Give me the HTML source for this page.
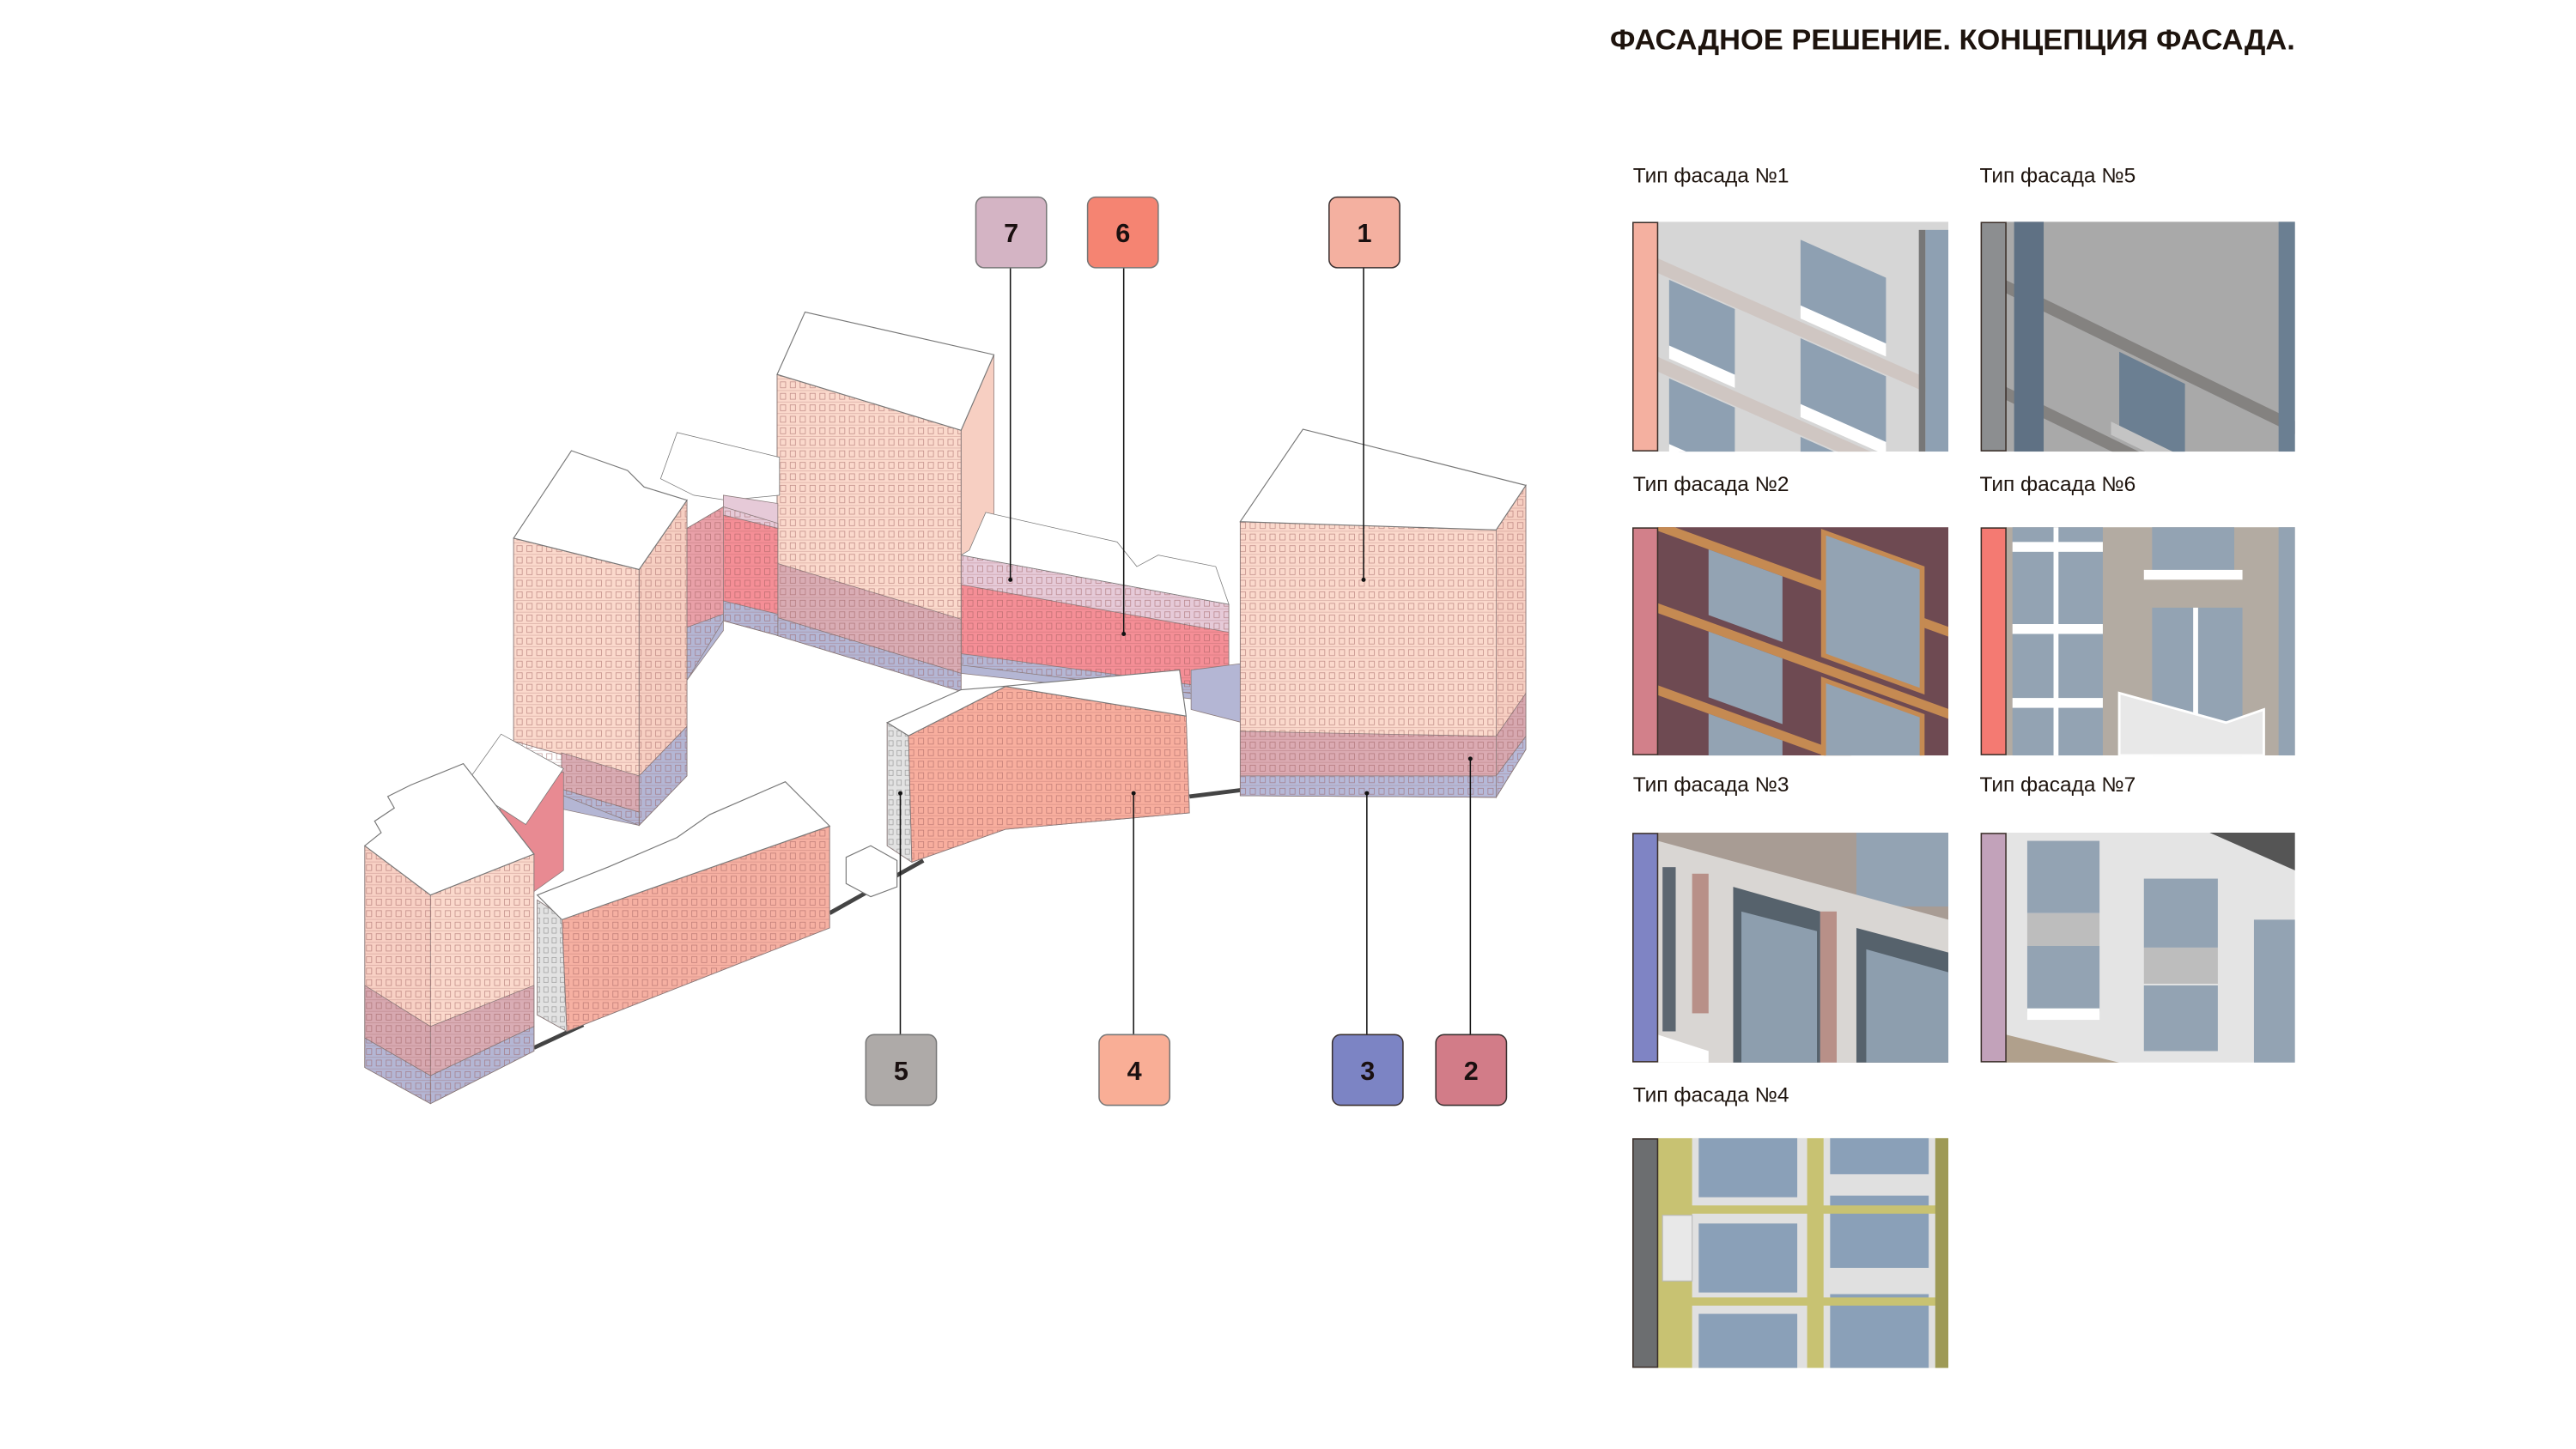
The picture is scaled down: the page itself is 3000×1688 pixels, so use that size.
<!DOCTYPE html>
<html><head><meta charset="utf-8">
<style>html,body{margin:0;padding:0;background:#fff;}svg{display:block}</style>
</head><body>
<svg xmlns="http://www.w3.org/2000/svg" width="3000" height="1688" viewBox="0 0 1568 882.3">
<defs>
<pattern id="win" width="6" height="7" patternUnits="userSpaceOnUse">
<rect x="1" y="1.5" width="3.2" height="3.6" fill="none" stroke="#9a5a5a" stroke-width="0.4" opacity="0.6"/>
<line x1="0" y1="6.8" x2="6" y2="6.8" stroke="#9a5a5a" stroke-width="0.3" opacity="0.45"/>
</pattern>
<pattern id="win2" width="5" height="6" patternUnits="userSpaceOnUse">
<rect x="1" y="1" width="2.6" height="3.2" fill="none" stroke="#666" stroke-width="0.35" opacity="0.6"/>
</pattern>
<clipPath id="c1"><rect x="1009" y="135" width="177" height="140"/></clipPath>
<clipPath id="c5"><rect x="1221" y="135" width="176" height="140"/></clipPath>
<clipPath id="c2"><rect x="1009" y="321" width="177" height="139"/></clipPath>
<clipPath id="c6"><rect x="1221" y="321" width="176" height="139"/></clipPath>
<clipPath id="c3"><rect x="1009" y="507" width="177" height="140"/></clipPath>
<clipPath id="c7"><rect x="1221" y="507" width="176" height="140"/></clipPath>
<clipPath id="c4"><rect x="1009" y="693" width="177" height="140"/></clipPath>
</defs>

<!-- Title -->
<text x="980" y="30" font-family="Liberation Sans, sans-serif" font-weight="bold" font-size="17.5" fill="#1e140e" textLength="417" lengthAdjust="spacingAndGlyphs">ФАСАДНОЕ РЕШЕНИЕ. КОНЦЕПЦИЯ ФАСАДА.</text>

<!-- labels -->
<g font-family="Liberation Sans, sans-serif" font-size="12.5" fill="#1e140e">
<text x="994" y="111" textLength="95" lengthAdjust="spacingAndGlyphs">Тип фасада №1</text>
<text x="1205" y="111" textLength="95" lengthAdjust="spacingAndGlyphs">Тип фасада №5</text>
<text x="994" y="299" textLength="95" lengthAdjust="spacingAndGlyphs">Тип фасада №2</text>
<text x="1205" y="299" textLength="95" lengthAdjust="spacingAndGlyphs">Тип фасада №6</text>
<text x="994" y="482" textLength="95" lengthAdjust="spacingAndGlyphs">Тип фасада №3</text>
<text x="1205" y="482" textLength="95" lengthAdjust="spacingAndGlyphs">Тип фасада №7</text>
<text x="994" y="671" textLength="95" lengthAdjust="spacingAndGlyphs">Тип фасада №4</text>
</g>

<!-- Swatch 1 -->
<g clip-path="url(#c1)">
<rect x="1009" y="135" width="177" height="140" fill="#d6d6d6"/>
<g transform="skewY(24) translate(0,-452)">
<rect x="1009" y="160" width="177" height="9" fill="#cfc6c2"/>
<rect x="1009" y="220" width="177" height="9" fill="#cfc6c2"/>
<rect x="1009" y="280" width="177" height="9" fill="#cfc6c2"/>
<rect x="1009" y="340" width="177" height="9" fill="#cfc6c2"/>
<rect x="1016" y="170" width="40" height="42" fill="#8ea0b2"/>
<rect x="1016" y="230" width="40" height="42" fill="#8ea0b2"/>
<rect x="1016" y="290" width="40" height="42" fill="#8ea0b2"/>
<rect x="1096" y="110" width="52" height="42" fill="#8ea0b2"/>
<rect x="1096" y="170" width="52" height="42" fill="#8ea0b2"/>
<rect x="1096" y="230" width="52" height="42" fill="#8ea0b2"/>
<rect x="1016" y="210" width="40" height="8" fill="#fff"/>
<rect x="1016" y="270" width="40" height="8" fill="#fff"/>
<rect x="1096" y="150" width="52" height="8" fill="#fff"/>
<rect x="1096" y="210" width="52" height="8" fill="#fff"/>
</g>
<rect x="1172" y="140" width="14" height="135" fill="#8ea0b2"/>
<rect x="1168" y="140" width="4" height="135" fill="#777"/>
</g>
<rect x="994" y="135.5" width="15" height="139" fill="#f4b0a0" stroke="#3a2e28" stroke-width="0.8"/>

<!-- Swatch 5 -->
<g clip-path="url(#c5)">
<rect x="1221" y="135" width="176" height="140" fill="#a9a9a9"/>
<g transform="skewY(26) translate(0,-575)">
<rect x="1221" y="150" width="176" height="8" fill="#848280"/>
<rect x="1221" y="215" width="176" height="8" fill="#848280"/>
<rect x="1221" y="280" width="176" height="8" fill="#848280"/>
<rect x="1221" y="345" width="176" height="8" fill="#848280"/>
<rect x="1290" y="160" width="40" height="45" fill="#6b7f92"/>
<rect x="1290" y="225" width="40" height="45" fill="#6b7f92"/>
<rect x="1290" y="290" width="40" height="45" fill="#6b7f92"/>
<rect x="1285" y="205" width="50" height="8" fill="#c4c4c4"/>
<rect x="1285" y="270" width="50" height="8" fill="#c4c4c4"/>
</g>
<rect x="1226" y="135" width="18" height="140" fill="#5f7184"/>
<rect x="1387" y="135" width="10" height="140" fill="#6b7f92"/>
</g>
<rect x="1206" y="135.5" width="15" height="139" fill="#8c8e90" stroke="#3a2e28" stroke-width="0.8"/>

<!-- Swatch 2 -->
<g clip-path="url(#c2)">
<rect x="1009" y="321" width="177" height="139" fill="#6e4a52"/>
<g transform="skewY(20) translate(0,-380)">
<rect x="1009" y="330" width="177" height="6" fill="#c58a52"/>
<rect x="1009" y="380" width="177" height="6" fill="#c58a52"/>
<rect x="1009" y="430" width="177" height="6" fill="#c58a52"/>
<rect x="1009" y="480" width="177" height="6" fill="#c58a52"/>
<rect x="1040" y="336" width="45" height="40" fill="#93a3b3"/>
<rect x="1040" y="386" width="45" height="40" fill="#93a3b3"/>
<rect x="1040" y="436" width="45" height="40" fill="#93a3b3"/>
<rect x="1110" y="300" width="60" height="75" fill="#93a3b3" stroke="#c58a52" stroke-width="3"/>
<rect x="1110" y="390" width="60" height="75" fill="#93a3b3" stroke="#c58a52" stroke-width="3"/>
</g>
</g>
<rect x="994" y="321.5" width="15" height="138" fill="#d2808a" stroke="#3a2e28" stroke-width="0.8"/>

<!-- Swatch 6 -->
<g clip-path="url(#c6)">
<rect x="1221" y="321" width="176" height="139" fill="#b3aba2"/>
<rect x="1225" y="321" width="55" height="139" fill="#93a3b3"/>
<rect x="1225" y="330" width="55" height="6" fill="#fff"/>
<rect x="1225" y="380" width="55" height="6" fill="#fff"/>
<rect x="1225" y="425" width="55" height="6" fill="#fff"/>
<rect x="1250" y="321" width="3" height="139" fill="#fff"/>
<rect x="1310" y="321" width="50" height="28" fill="#93a3b3"/>
<rect x="1305" y="347" width="60" height="6" fill="#fff"/>
<rect x="1310" y="370" width="55" height="90" fill="#93a3b3"/>
<rect x="1335" y="370" width="3" height="90" fill="#fff"/>
<polygon points="1290,422 1355,440 1378,432 1378,460 1290,460" fill="#e8e8e8" stroke="#fff" stroke-width="1.5"/>
<rect x="1387" y="321" width="10" height="139" fill="#93a3b3"/>
</g>
<rect x="1206" y="321.5" width="15" height="138" fill="#f47a72" stroke="#3a2e28" stroke-width="0.8"/>

<!-- Swatch 3 -->
<g clip-path="url(#c3)">
<rect x="1009" y="507" width="177" height="140" fill="#a89c94"/>
<rect x="1130" y="507" width="56" height="45" fill="#93a3b3"/>
<polygon points="1009,512 1186,560 1186,647 1009,647" fill="#d9d6d3"/>
<rect x="1012" y="528" width="8" height="100" fill="#5c6670"/>
<rect x="1030" y="532" width="10" height="85" fill="#b89088"/>
<polygon points="1055,540 1108,555 1108,647 1055,647" fill="#56626c"/>
<polygon points="1060,555 1106,567 1106,647 1060,647" fill="#8d9eae"/>
<rect x="1108" y="555" width="10" height="92" fill="#b89088"/>
<polygon points="1130,565 1186,580 1186,647 1130,647" fill="#56626c"/>
<polygon points="1136,578 1186,592 1186,647 1136,647" fill="#8d9eae"/>
<polygon points="1009,630 1040,640 1040,647 1009,647" fill="#fff"/>
</g>
<rect x="994" y="507.5" width="15" height="139" fill="#7f84c4" stroke="#3a2e28" stroke-width="0.8"/>

<!-- Swatch 7 -->
<g clip-path="url(#c7)">
<rect x="1221" y="507" width="176" height="140" fill="#e4e4e4"/>
<polygon points="1345,507 1397,507 1397,530" fill="#555"/>
<rect x="1234" y="512" width="44" height="44" fill="#93a3b3"/>
<rect x="1234" y="556" width="44" height="20" fill="#bdbdbd"/>
<rect x="1234" y="576" width="44" height="40" fill="#93a3b3"/>
<rect x="1234" y="614" width="44" height="7" fill="#fff"/>
<rect x="1305" y="535" width="45" height="42" fill="#93a3b3"/>
<rect x="1305" y="577" width="45" height="22" fill="#bdbdbd"/>
<rect x="1305" y="600" width="45" height="40" fill="#93a3b3"/>
<rect x="1372" y="560" width="25" height="87" fill="#93a3b3"/>
<polygon points="1221,630 1290,647 1221,647" fill="#b0a08c"/>
</g>
<rect x="1206" y="507.5" width="15" height="139" fill="#c2a2ba" stroke="#3a2e28" stroke-width="0.8"/>

<!-- Swatch 4 -->
<g clip-path="url(#c4)">
<rect x="1009" y="693" width="177" height="140" fill="#c8c272"/>
<rect x="1030" y="693" width="70" height="140" fill="#e0e0e0"/>
<rect x="1110" y="693" width="70" height="140" fill="#e0e0e0"/>
<rect x="1034" y="693" width="60" height="36" fill="#8aa0b8"/>
<rect x="1034" y="745" width="60" height="42" fill="#8aa0b8"/>
<rect x="1034" y="800" width="60" height="33" fill="#8aa0b8"/>
<rect x="1114" y="693" width="60" height="22" fill="#8aa0b8"/>
<rect x="1114" y="728" width="60" height="44" fill="#8aa0b8"/>
<rect x="1114" y="788" width="60" height="45" fill="#8aa0b8"/>
<rect x="1009" y="734" width="177" height="5" fill="#c8c272"/>
<rect x="1009" y="790" width="177" height="5" fill="#c8c272"/>
<rect x="1012" y="740" width="18" height="40" fill="#e8e8e8" stroke="#bbb" stroke-width="0.6"/>
<rect x="1178" y="693" width="8" height="140" fill="#9e9a56"/>
</g>
<rect x="994" y="693.5" width="15" height="139" fill="#6c6e70" stroke="#3a2e28" stroke-width="0.8"/>

<!-- ===== Buildings ===== -->
<g stroke="#8a7a7a" stroke-width="0.4">
<g stroke="#444" stroke-width="2.5" fill="none">
<line x1="325" y1="638" x2="355" y2="624"/>
<line x1="505" y1="556" x2="562" y2="524"/>
<line x1="724" y1="485" x2="756" y2="481"/>
</g>

<!-- middle tall tower right face -->
<polygon points="585,262 605,216 605,345 585,378" fill="#f7cfc2"/>
<polygon points="585,378 605,345 605,380 585,410" fill="#d7aab0"/>
<!-- wing right of middle tower -->
<polygon points="585,338 748,368 748,425 585,405" fill="#f58e96"/>
<polygon points="585,338 748,368 748,385 585,356" fill="#e6cad8"/>
<polygon points="585,398 748,420 748,428 585,410" fill="#b4b6d4"/>
<polygon points="585,338 748,368 748,425 585,405" fill="url(#win)"/>
<polygon points="590,335 600,312 680,330 692,345 705,338 740,345 748,368 585,338" fill="#fff" stroke="#777"/>
<polygon points="725,408 756,404 756,440 725,432" fill="#b4b6d4"/>
<!-- middle tower front -->
<polygon points="473,228 585,262 585,410 473,387" fill="#fbd9cc"/>
<polygon points="473,343 585,377 585,410 473,376" fill="#d9acb4"/>
<polygon points="473,376 585,410 585,421 473,387" fill="#b4b6d4"/>
<polygon points="473,228 585,262 585,421 473,387" fill="url(#win)"/>
<polygon points="473,228 490,190 605,216 585,262" fill="#fff" stroke="#777" stroke-width="0.6"/>

<g transform="scale(1.0052)">
<!-- small back block between towers -->
<polygon points="400,290 410,262 472,277 472,300 440,303 420,300" fill="#fff" stroke="#777"/>
<polygon points="416,320 438,307 438,375 416,410" fill="#e9a0a8"/>
<polygon points="438,307 471,317 471,376 438,366" fill="#f58e96"/>
<polygon points="438,300 471,305 471,320 438,312" fill="#e6cad8"/>
<polygon points="438,364 471,372 471,385 438,376" fill="#b4b6d4"/>
<polygon points="416,380 438,372 438,382 416,412" fill="#b4b6d4"/>
<polygon points="416,320 438,307 471,317 471,385 438,376 416,412" fill="url(#win)"/>

<!-- left tower -->
<polygon points="311,326 387,345 387,470 311,449" fill="#fbd9cc"/>
<polygon points="340,456 387,470 387,492 340,478" fill="#d9acb4"/>
<polygon points="387,345 416,303 416,440 387,470" fill="#f7cfc2"/>
<polygon points="387,470 416,440 416,470 387,500" fill="#b4b6d4"/>
<polygon points="340,478 387,492 387,500 340,490" fill="#b4b6d4"/>
<polygon points="311,326 387,345 387,500 311,470" fill="url(#win)"/>
<polygon points="387,345 416,303 416,470 387,500" fill="url(#win)"/>
<polygon points="311,326 346,273 380,285 390,295 416,303 387,345" fill="#fff" stroke="#777" stroke-width="0.6"/>
</g>

<!-- back block of far-left tower -->
<polygon points="300,480 322,545 343,530 343,470" fill="#e88a92"/>
<polygon points="283,478 305,447 343,468 320,502" fill="#fff" stroke="#777"/>

<!-- far-left tower -->
<polygon points="222,515 262,545 262,672 222,650" fill="#f8d0c4"/>
<polygon points="262,545 325,520 325,640 262,672" fill="#fbd9cc"/>
<polygon points="222,600 262,625 262,655 222,632" fill="#d7a8b0"/>
<polygon points="262,625 325,600 325,625 262,655" fill="#d9acb4"/>
<polygon points="222,632 262,655 262,672 222,650" fill="#b4b6d4"/>
<polygon points="262,655 325,625 325,640 262,672" fill="#b4b6d4"/>
<polygon points="222,515 262,545 325,520 325,640 262,672 222,650" fill="url(#win)"/>
<polygon points="222,515 232,507 228,500 240,492 236,485 250,478 282,465 325,520 262,545" fill="#fff" stroke="#777" stroke-width="0.6"/>

<!-- long low building -->
<polygon points="327,548 342,558 345,628 327,618" fill="#e2e2e2"/>
<polygon points="342,558 505,503 505,565 345,628" fill="#f6b0a2"/>
<polygon points="327,548 342,558 345,628 327,618" fill="url(#win2)"/>
<polygon points="342,558 505,503 505,565 345,628" fill="url(#win)"/>
<polygon points="327,545 370,528 412,510 432,496 478,476 505,503 342,560" fill="#fff" stroke="#777" stroke-width="0.6"/>

<!-- kiosk -->
<polygon points="515,522 530,515 546,524 546,540 530,546 515,538" fill="#fff" stroke="#777" stroke-width="0.6"/>

<!-- building 4 -->
<polygon points="540,440 553,448 555,525 540,515" fill="#e2e2e2"/>
<polygon points="540,440 553,448 555,525 540,515" fill="url(#win2)"/>
<polygon points="553,448 612,418 722,436 724,495 612,505 555,525" fill="#f8ae9e"/>
<polygon points="553,448 612,418 722,436 724,495 612,505 555,525" fill="url(#win)"/>
<polygon points="540,440 585,420 610,418 718,408 722,436 612,418 553,448" fill="#fff" stroke="#777" stroke-width="0.6"/>

<!-- right tower -->
<g transform="scale(1.0052)">
<polygon points="751,316 906,321 906,483 751,482" fill="#fbd9cc"/>
<polygon points="751,443 906,446 906,470 751,470" fill="#dbaab2"/>
<polygon points="751,470 906,470 906,483 751,482" fill="#b6b9d8"/>
<polygon points="906,321 924,294 924,420 906,446" fill="#f7cfc2"/>
<polygon points="906,446 924,420 924,446 906,470" fill="#d7a8b0"/>
<polygon points="906,470 924,446 924,454 906,483" fill="#b6b9d8"/>
<polygon points="751,316 906,321 924,294 924,454 906,483 751,482" fill="url(#win)"/>
<polygon points="751,316 789,260 924,294 906,321" fill="#fff" stroke="#777" stroke-width="0.6"/>
</g>
</g>

<!-- leader lines -->
<g stroke="#111" stroke-width="0.8" fill="none">
<line x1="615" y1="163" x2="615" y2="353"/>
<line x1="684" y1="163" x2="684" y2="386"/>
<line x1="830" y1="163" x2="830" y2="353"/>
<line x1="548" y1="630" x2="548" y2="483"/>
<line x1="690" y1="630" x2="690" y2="483"/>
<line x1="832" y1="630" x2="832" y2="483"/>
<line x1="895" y1="630" x2="895" y2="462"/>
</g>
<g fill="#111">
<circle cx="615" cy="353" r="1.3"/><circle cx="684" cy="386" r="1.3"/><circle cx="830" cy="353" r="1.3"/>
<circle cx="548" cy="483" r="1.3"/><circle cx="690" cy="483" r="1.3"/><circle cx="832" cy="483" r="1.3"/><circle cx="895" cy="462" r="1.3"/>
</g>

<!-- number boxes -->
<g stroke="#3a3030" stroke-width="0.8">
<rect x="594" y="120" width="43" height="43" rx="5" fill="#d4b4c4" stroke="#777"/>
<rect x="662" y="120" width="43" height="43" rx="5" fill="#f58472" stroke="#777"/>
<rect x="809" y="120" width="43" height="43" rx="5" fill="#f4b0a0"/>
<rect x="527" y="630" width="43" height="43" rx="5" fill="#aeaaa8" stroke="#777"/>
<rect x="669" y="630" width="43" height="43" rx="5" fill="#f9ae96" stroke="#777"/>
<rect x="811" y="630" width="43" height="43" rx="5" fill="#7c84c4"/>
<rect x="874" y="630" width="43" height="43" rx="5" fill="#d27c88"/>
</g>
<g font-family="Liberation Sans, sans-serif" font-weight="bold" font-size="16" fill="#1a1010" text-anchor="middle">
<text x="615.5" y="147.5">7</text>
<text x="683.5" y="147.5">6</text>
<text x="830.5" y="147.5">1</text>
<text x="548.5" y="657.5">5</text>
<text x="690.5" y="657.5">4</text>
<text x="832.5" y="657.5">3</text>
<text x="895.5" y="657.5">2</text>
</g>
</svg>
</body></html>
